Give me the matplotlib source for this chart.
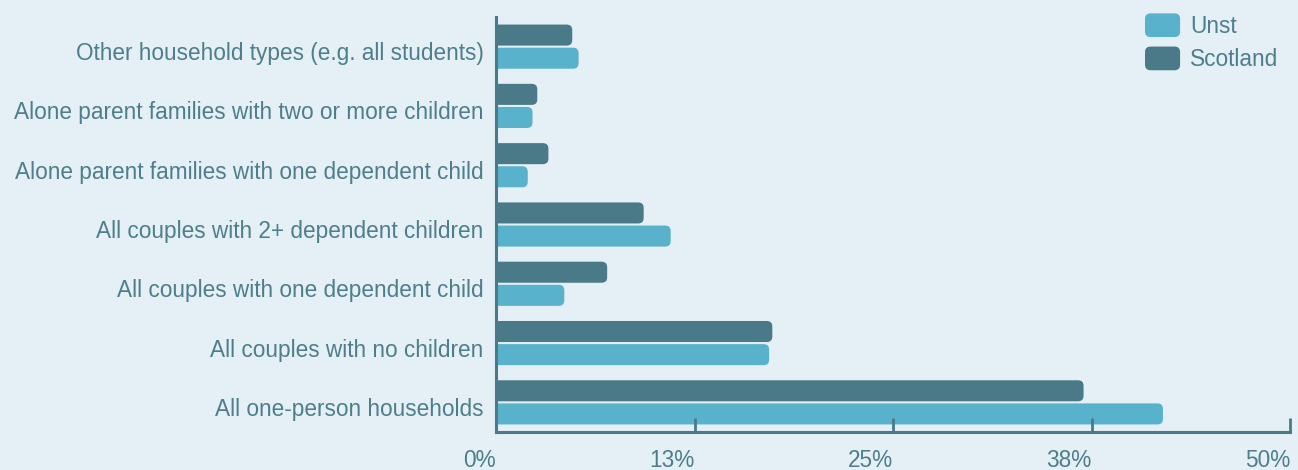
import matplotlib
matplotlib.use("Agg")
import matplotlib.pyplot as plt
from matplotlib.patches import FancyBboxPatch, Patch
from matplotlib.legend_handler import HandlerPatch
import matplotlib.transforms as mtransforms
import numpy as np

categories = [
    "All one-person households",
    "All couples with no children",
    "All couples with one dependent child",
    "All couples with 2+ dependent children",
    "Alone parent families with one dependent child",
    "Alone parent families with two or more children",
    "Other household types (e.g. all students)",
]
unst = [42.0, 17.2, 4.3, 11.0, 2.0, 2.3, 5.2]
scotland = [37.0, 17.4, 7.0, 9.3, 3.3, 2.6, 4.8]
tick_values = [0, 12.5, 25, 37.5, 50]
tick_labels = ["0%", "13%", "25%", "38%", "50%"]

BG = "#E4EFF6"
DARK = "#4A7A88"
LIGHT = "#58B2CC"
TEXT = "#4E7E8B"
FS = 16.3

plt.rcParams['font.family'] = ['Liberation Sans', 'DejaVu Sans']

fig = plt.figure(figsize=(12.98, 4.70), dpi=100, facecolor=BG)
W, H = 1298, 470
ax = fig.add_axes([496 / W, 1 - 432 / H, (1290 - 496) / W, (432 - 17) / H])
ax.set_facecolor(BG)

y = np.arange(len(categories))
h = 0.355
off = 0.195
ax.set_xlim(0, 50)
ax.set_ylim(-0.5, 6.5)

bars_s = ax.barh(y + off, scotland, height=h, color=DARK)
bars_u = ax.barh(y - off, unst, height=h, color=LIGHT)

# convert to rounded bars
xpp = 50 / (1290 - 496)
ypp = 7 / (432 - 17)
r_px = 5.5
for bars, col in ((bars_s, DARK), (bars_u, LIGHT)):
    for b in bars:
        x0, y0, w, hh = b.get_x(), b.get_y(), b.get_width(), b.get_height()
        b.set_visible(False)
        ext = r_px * xpp
        p = FancyBboxPatch((x0 - ext, y0), w + ext, hh,
                           boxstyle=f"round,pad=0,rounding_size={r_px * xpp}",
                           mutation_aspect=ypp / xpp,
                           facecolor=col, edgecolor="none", clip_on=True)
        ax.add_patch(p)

for s in ["top", "right"]:
    ax.spines[s].set_visible(False)
for s in ["left", "bottom"]:
    ax.spines[s].set_color(DARK)
    ax.spines[s].set_linewidth(2.2)
ax.spines["left"].set_zorder(5)

ax.set_yticks(y)
ax.set_yticklabels(categories)
ax.tick_params(axis="y", length=0, pad=9, labelsize=FS, labelcolor=TEXT)
shift = mtransforms.ScaledTranslation(0, -7 / 100, fig.dpi_scale_trans)
for lbl in ax.get_yticklabels():
    lbl.set_va("center")
    lbl.set_transform(lbl.get_transform() + shift)

ax.set_xticks(tick_values)
ax.set_xticklabels(tick_labels)
ax.tick_params(axis="x", direction="in", length=10, width=2, color=DARK,
               labelsize=FS, labelcolor=TEXT, pad=12)
for lbl in ax.get_xticklabels():
    lbl.set_ha("right")


class RoundHandler(HandlerPatch):
    def create_artists(self, legend, orig_handle, xdescent, ydescent, width,
                       height, fontsize, trans):
        p = FancyBboxPatch((-xdescent, -ydescent - 1.5), width, height + 3,
                           boxstyle="round,pad=0,rounding_size=4",
                           facecolor=orig_handle.get_facecolor(),
                           edgecolor="none", transform=trans)
        return [p]


handles = [Patch(facecolor=LIGHT, label="Unst"), Patch(facecolor=DARK, label="Scotland")]
leg = fig.legend(handles=handles, loc="upper left",
                 bbox_to_anchor=(1145 / W, 1 - 15 / H),
                 frameon=False, fontsize=FS, labelcolor=TEXT, borderpad=0,
                 borderaxespad=0,
                 handlelength=1.55, handleheight=0.95, handletextpad=0.45,
                 labelspacing=0.45,
                 handler_map={Patch: RoundHandler()})

fig.savefig("out.png", dpi=100, facecolor=BG)
